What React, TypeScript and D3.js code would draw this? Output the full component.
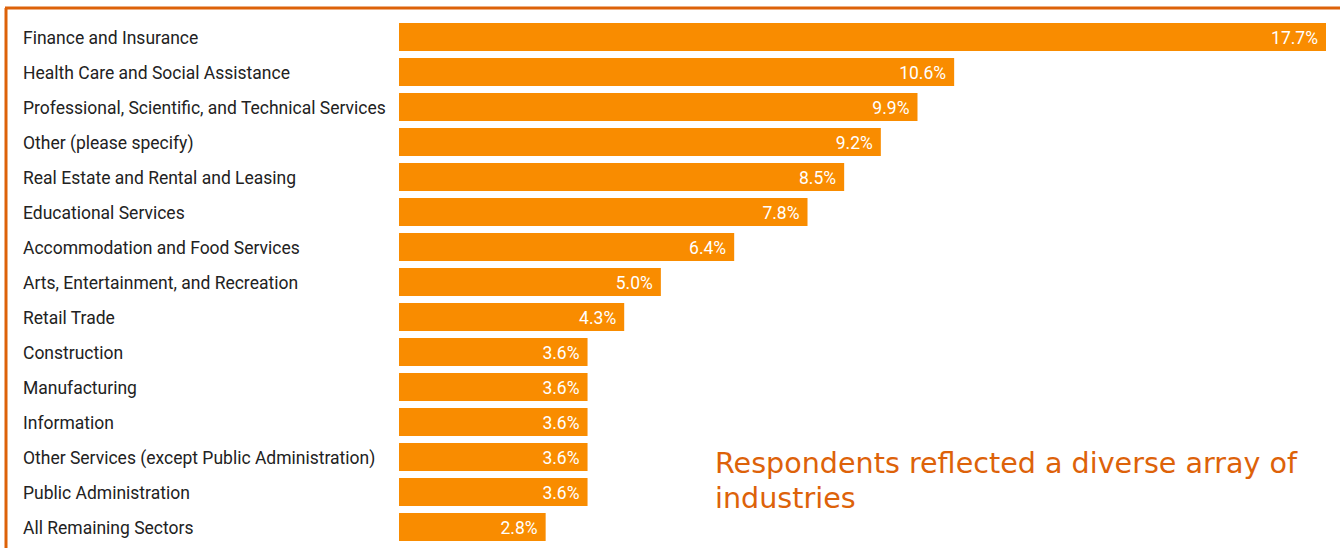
import React from "react";
import * as d3 from "d3";

const categories = [
  "Finance and Insurance",
  "Health Care and Social Assistance",
  "Professional, Scientific, and Technical Services",
  "Other (please specify)",
  "Real Estate and Rental and Leasing",
  "Educational Services",
  "Accommodation and Food Services",
  "Arts, Entertainment, and Recreation",
  "Retail Trade",
  "Construction",
  "Manufacturing",
  "Information",
  "Other Services (except Public Administration)",
  "Public Administration",
  "All Remaining Sectors",
];
const values = [17.7, 10.6, 9.9, 9.2, 8.5, 7.8, 6.4, 5.0, 4.3, 3.6, 3.6, 3.6, 3.6, 3.6, 2.8];
const annotationLines = ["Respondents reflected a diverse array of", "industries"];

const W = 1340;
const H = 548;
const barColor = "#F98C00";
const accent = "#DD6209";

export default function App() {
  const x = d3.scaleLinear().domain([0, 17.7]).range([399, 1326]);
  const y = d3
    .scaleBand<string>()
    .domain(categories)
    .range([19.5, 544.5])
    .paddingInner(0.2)
    .paddingOuter(0.1);

  return (
    <svg
      width={W}
      height={H}
      style={{ position: "fixed", left: 0, top: 0, background: "#fff" }}
    >
      <line x1={5} x2={W} y1={8} y2={8} stroke={accent} strokeWidth={3} />
      <line x1={6} x2={6} y1={8} y2={H} stroke={accent} strokeWidth={3} />
      {categories.map((c, i) => {
        const by = y(c)!;
        const bh = y.bandwidth();
        const cy = by + bh / 2;
        return (
          <g key={c}>
            <text
              x={23}
              y={cy}
              dy="0.4em"
              fontFamily="Roboto"
              fontSize={17.5}
              fill="#222"
            >
              {c}
            </text>
            <rect x={x(0)} y={by} width={x(values[i]) - x(0)} height={bh} fill={barColor} />
            <text
              x={x(values[i]) - 8}
              y={cy}
              dy="0.4em"
              textAnchor="end"
              fontFamily="Roboto"
              fontSize={17.5}
              fill="#fff"
            >
              {values[i].toFixed(1)}%
            </text>
          </g>
        );
      })}
      {annotationLines.map((t, i) => (
        <text
          key={t}
          x={715}
          y={473 + i * 35}
          fontFamily="DejaVu Sans"
          fontSize={28.6}
          fill={accent}
        >
          {t}
        </text>
      ))}
    </svg>
  );
}
